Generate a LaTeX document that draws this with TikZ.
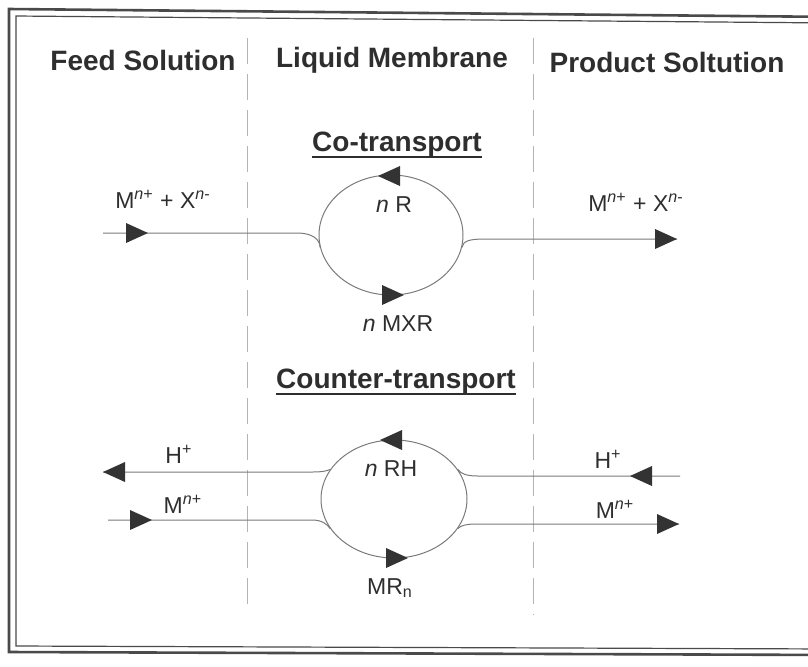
\documentclass[tikz,border=0pt]{standalone}
\usepackage{fontspec}
\setmainfont{Liberation Sans}
\usetikzlibrary{shapes.geometric}
\definecolor{textc}{HTML}{2E2E2E}
\definecolor{linec}{HTML}{7A7A7A}
\definecolor{dashc}{HTML}{B4B4B4}
\definecolor{arrc}{HTML}{333333}
\definecolor{framec}{HTML}{4A4A4A}
\tikzset{
  head/.style={font=\fontsize{14}{16}\selectfont\bfseries, text=textc, inner sep=0pt},
  lab/.style={font=\fontsize{11.5}{13}\selectfont, text=textc, inner sep=0pt},
  flow/.style={draw=linec, line width=0.5pt},
  divider/.style={draw=dashc, line width=0.5pt, dash pattern=on 13pt off 5pt},
  loopnode/.style={ellipse, draw=linec, line width=0.5pt, inner sep=0pt},
  tri/.pic={\fill[arrc] (0,0) -- (-22,-10) -- (-22,10) -- cycle;}
}
\begin{document}
\begin{tikzpicture}[x=0.5pt,y=-0.5pt]
\useasboundingbox (0,0) rectangle (808,666);
% frame
\draw[framec, line width=1.3pt] (9,9) -- (840,17) -- (840,655) -- (9,652) -- cycle;
\draw[framec, line width=0.6pt] (16,16) -- (834,23) -- (834,649) -- (16,646) -- cycle;
% dividers
\coordinate (d1t) at (247,38); \coordinate (d1b) at (247,612);
\coordinate (d2t) at (533,38); \coordinate (d2b) at (533,615);
\draw[divider] (d1t) -- (d1b);
\draw[divider] (d2t) -- (d2b);
% headers
\node[head] (h1) at (143,60) {Feed Solution};
\node[head] (h2) at (392,60) {Liquid Membrane};
\node[head] (h3) at (667,62) {Product Soltution};
% titles
\node[head] (co) at (397,145) {Co-transport};
\draw[textc, line width=0.9pt] ([yshift=-2.6pt]co.base west) -- ([yshift=-2.6pt]co.base east);
\node[head] (ct) at (396,382) {Counter-transport};
\draw[textc, line width=0.9pt] ([yshift=-2.6pt]ct.base west) -- ([yshift=-2.6pt]ct.base east);
% upper loop
\node[loopnode, minimum width=72pt, minimum height=60pt] (e1) at (391,235) {};
\coordinate (a1) at (103,233);
\coordinate (a2) at (677,239);
\draw[flow] (a1) -- (297,233) .. controls (312,233) and (320,239) .. (e1.190);
\draw[flow] (e1.-10) .. controls (463,241) and (469,239) .. (485,239) -- (a2);
\pic at (148,233) {tri};
\pic at (a2) {tri};
\pic[rotate=180] at (378,176) {tri};
\pic at (404,295) {tri};
\node[lab] (l1) at (163,199) {M\textsuperscript{\textit{n}+} + X\textsuperscript{\textit{n}-}};
\node[lab] (l2) at (636,202) {M\textsuperscript{\textit{n}+} + X\textsuperscript{\textit{n}-}};
\node[lab] (l3) at (394,205) {\textit{n} R};
\node[lab] (l4) at (398,324) {\textit{n} MXR};
% lower loop
\node[loopnode, minimum width=73pt, minimum height=59pt] (e2) at (394,499) {};
\coordinate (b1) at (103,472);
\coordinate (b2) at (108,520);
\coordinate (b3) at (680,476);
\coordinate (b4) at (679,524);
\draw[flow] (b1) -- (312,472) .. controls (322,472) and (327,471) .. (e2.155);
\draw[flow] (b2) -- (312,520) .. controls (322,520) and (327,524) .. (e2.205);
\draw[flow] (e2.25) .. controls (461,474) and (467,476) .. (478,476) -- (b3);
\draw[flow] (e2.-25) .. controls (461,525) and (467,524) .. (478,524) -- (b4);
\pic[rotate=180] at (b1) {tri};
\pic at (152,520) {tri};
\pic[rotate=180] at (630,476) {tri};
\pic at (b4) {tri};
\pic[rotate=180] at (380,440) {tri};
\pic at (408,558) {tri};
\node[lab] (m1) at (179,454) {H\textsuperscript{+}};
\node[lab] (m2) at (183,504) {M\textsuperscript{\textit{n}+}};
\node[lab] (m3) at (608,459) {H\textsuperscript{+}};
\node[lab] (m4) at (615,509) {M\textsuperscript{\textit{n}+}};
\node[lab] (m5) at (391,469) {\textit{n} RH};
\node[lab] (m6) at (390,588) {MR\textsubscript{n}};
\end{tikzpicture}
\end{document}
